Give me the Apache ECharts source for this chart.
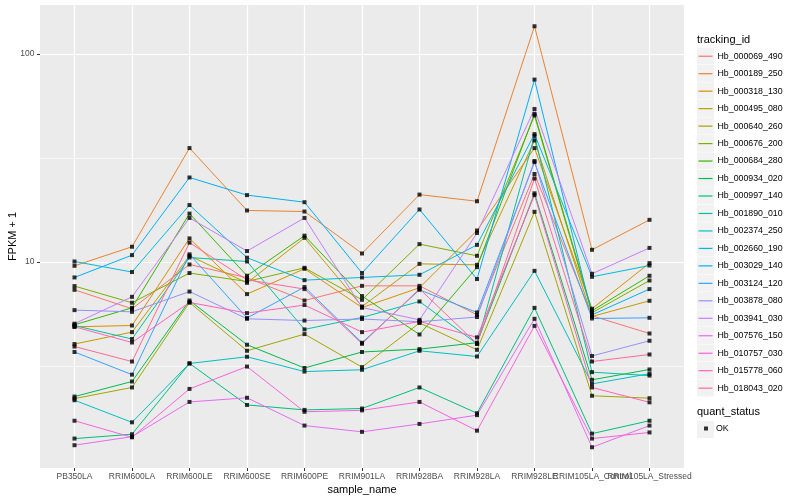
<!DOCTYPE html>
<html>
<head>
<meta charset="utf-8">
<script src="https://cdn.jsdelivr.net/npm/echarts@6/dist/echarts.min.js"></script>
<style>
html,body{margin:0;padding:0;background:#fff;}
#chart{width:800px;height:500px;}
</style>
</head>
<body>
<div id="chart"></div>
<script>
// ---- data ----
const categories = ['PB350LA','RRIM600LA','RRIM600LE','RRIM600SE','RRIM600PE','RRIM901LA','RRIM928BA','RRIM928LA','RRIM928LE','RRIM105LA_Control','RRIM105LA_Stressed'];
const yTickLabels = [10, 100];

const Hb_000069_490 = [7.36, 5.97, 9.74, 8.41, 6.54, 7.69, 7.69, 5.58, 26.5, 5.52, 4.54];
const Hb_000189_250 = [9.60, 11.85, 35.3, 17.7, 17.5, 11.0, 21.1, 19.6, 135.8, 11.46, 15.96];
const Hb_000318_130 = [4.89, 4.96, 13.0, 7.02, 9.29, 6.05, 7.53, 14.18, 35.3, 5.97, 9.89];
const Hb_000495_080 = [4.04, 4.61, 10.72, 7.95, 13.08, 6.12, 9.81, 9.70, 38.4, 5.48, 6.52];
const Hb_000640_260 = [2.21, 2.50, 6.40, 3.75, 4.51, 3.13, 5.10, 3.79, 17.44, 2.28, 2.22];
const Hb_000676_200 = [7.67, 6.38, 8.86, 8.07, 9.39, 6.59, 12.2, 10.72, 50.6, 5.71, 8.16];
const Hb_000684_280 = [5.00, 6.03, 17.1, 8.60, 13.4, 6.87, 4.49, 9.46, 51.5, 5.84, 8.60];
const Hb_000934_020 = [2.26, 2.67, 6.54, 4.01, 3.10, 3.70, 3.82, 4.10, 21.4, 2.72, 3.05];
const Hb_000997_140 = [1.42, 1.49, 3.26, 2.06, 1.95, 1.98, 2.50, 1.88, 6.03, 1.50, 1.73];
const Hb_001890_010 = [4.96, 4.27, 10.52, 10.07, 4.75, 5.42, 6.47, 4.05, 40.4, 2.96, 2.85];
const Hb_002374_250 = [2.17, 1.70, 3.26, 3.51, 2.98, 3.04, 3.75, 3.52, 9.08, 2.60, 2.91];
const Hb_002660_190 = [10.07, 8.96, 18.8, 10.5, 8.19, 8.44, 8.69, 12.1, 41.2, 8.50, 9.63];
const Hb_003029_140 = [8.44, 10.8, 25.5, 20.98, 19.4, 8.86, 17.9, 8.29, 75.3, 5.58, 7.42];
const Hb_003124_120 = [3.70, 2.88, 10.9, 5.39, 7.59, 4.10, 7.36, 5.73, 30.2, 5.36, 5.40];
const Hb_003878_080 = [5.88, 5.77, 7.22, 5.34, 5.24, 5.33, 5.17, 5.45, 30.6, 3.54, 4.19];
const Hb_003941_030 = [5.06, 6.81, 16.3, 11.3, 16.3, 6.05, 5.28, 13.8, 54.4, 8.79, 11.7];
const Hb_007576_150 = [1.32, 1.45, 2.13, 2.23, 1.64, 1.53, 1.67, 1.84, 5.34, 1.29, 1.64];
const Hb_010757_030 = [1.73, 1.44, 2.46, 3.15, 1.91, 1.94, 2.13, 1.55, 4.94, 1.42, 1.52];
const Hb_015778_060 = [4.89, 4.11, 6.40, 5.69, 6.22, 4.61, 5.19, 4.35, 20.98, 2.50, 2.12];
const Hb_018043_020 = [3.93, 3.33, 12.4, 8.22, 7.42, 4.05, 7.44, 4.05, 25.2, 3.33, 3.60];

const trackingIds = ['Hb_000069_490','Hb_000189_250','Hb_000318_130','Hb_000495_080','Hb_000640_260','Hb_000676_200','Hb_000684_280','Hb_000934_020','Hb_000997_140','Hb_001890_010','Hb_002374_250','Hb_002660_190','Hb_003029_140','Hb_003124_120','Hb_003878_080','Hb_003941_030','Hb_007576_150','Hb_010757_030','Hb_015778_060','Hb_018043_020'];
const seriesValues = [Hb_000069_490,Hb_000189_250,Hb_000318_130,Hb_000495_080,Hb_000640_260,Hb_000676_200,Hb_000684_280,Hb_000934_020,Hb_000997_140,Hb_001890_010,Hb_002374_250,Hb_002660_190,Hb_003029_140,Hb_003124_120,Hb_003878_080,Hb_003941_030,Hb_007576_150,Hb_010757_030,Hb_015778_060,Hb_018043_020];

// ---- ggplot-like hue palette (HCL, c=100, l=65) ----
function hcl(h, c, l) {
  const hr = h * Math.PI / 180;
  const U = c * Math.cos(hr), V = c * Math.sin(hr);
  const Y = l > 8 ? Math.pow((l + 16) / 116, 3) : l / 903.3;
  const un = 0.1978398, vn = 0.4683363;
  const u = U / (13 * l) + un, v = V / (13 * l) + vn;
  const X = 9 * Y * u / (4 * v);
  const Z = Y * (12 - 3 * u - 20 * v) / (4 * v);
  const lin = [
    3.240479 * X - 1.537150 * Y - 0.498535 * Z,
    -0.969256 * X + 1.875992 * Y + 0.041556 * Z,
    0.055648 * X - 0.204043 * Y + 1.057311 * Z
  ];
  return '#' + lin.map(cc => {
    let g = cc <= 0.0031308 ? 12.92 * cc : 1.055 * Math.pow(cc, 1 / 2.4) - 0.055;
    g = Math.max(0, Math.min(1, g));
    return Math.round(g * 255).toString(16).padStart(2, '0');
  }).join('');
}
const n = trackingIds.length;
const colors = trackingIds.map((_, k) => hcl(15 + 360 * k / n, 100, 65));

const FONT = 'Liberation Sans, Arial, sans-serif';
const idx = categories.map((_, i) => i);
const idxMain = idx.filter(i => i !== 9);
const idxAlt = [9];

const lineSeries = trackingIds.map((name, k) => ({
  type: 'line',
  name: name,
  data: seriesValues[k].map((v, i) => [i, v]),
  symbol: 'none',
  color: colors[k],
  lineStyle: { width: 1, color: colors[k] },
  silent: true,
  z: 2
}));
const pointSeries = {
  type: 'scatter',
  name: 'OK',
  data: seriesValues.flatMap(arr => arr.map((v, i) => [i, v])),
  symbol: 'rect',
  symbolSize: 4,
  itemStyle: { color: '#000' },
  silent: true,
  z: 3
};

// legend key backgrounds
const keyStep = 17.47;
const graphics = [];
trackingIds.forEach((_, k) => {
  graphics.push({ type: 'rect', shape: { x: 697, y: 47.5 + k * keyStep, width: 17, height: 17 }, style: { fill: '#F2F2F2' }, z: 0, silent: true });
});
graphics.push({ type: 'rect', shape: { x: 697, y: 421, width: 17, height: 17 }, style: { fill: '#F2F2F2' }, z: 0, silent: true });
graphics.push({ type: 'text', x: 697, y: 40, style: { text: 'tracking_id', fontSize: 11, fill: '#000', fontFamily: FONT, verticalAlign: 'middle', textVerticalAlign: 'middle' }, z: 5 });
graphics.push({ type: 'text', x: 697, y: 412, style: { text: 'quant_status', fontSize: 11, fill: '#000', fontFamily: FONT, verticalAlign: 'middle', textVerticalAlign: 'middle' }, z: 5 });

const yLogMin = 0.011, yLogMax = 2.235;
const yMin = Math.pow(10, yLogMin);
const yMax = Math.pow(10, yLogMax);

const xLabelStyle = { fontSize: 8.5, color: '#4D4D4D', margin: 4.5, fontFamily: FONT, hideOverlap: false, showMinLabel: true, showMaxLabel: true };

const option = {
  animation: false,
  backgroundColor: '#ffffff',
  textStyle: { fontFamily: FONT },
  grid: { left: 40, right: 116, top: 5, bottom: 32, show: true, backgroundColor: '#EBEBEB', borderWidth: 0, containLabel: false, outerBoundsMode: 'none' },
  xAxis: [{
    type: 'value', min: -0.6, max: 10.6, position: 'bottom',
    axisLine: { show: false },
    axisTick: { show: true, length: 3, customValues: idx, lineStyle: { color: '#333333', width: 1 } },
    axisLabel: Object.assign({ customValues: idxMain, formatter: v => categories[Math.round(v)] }, xLabelStyle),
    splitLine: { show: true, lineStyle: { color: '#ffffff', width: 1.2 } },
    name: 'sample_name', nameLocation: 'middle', nameGap: 16, nameMoveOverlap: false,
    nameTextStyle: { fontSize: 11, color: '#000', fontFamily: FONT }
  }, {
    type: 'value', min: -0.6, max: 10.6, position: 'bottom', offset: 0,
    axisLine: { show: false },
    axisTick: { show: false, customValues: idxAlt },
    axisLabel: Object.assign({ customValues: idxAlt, formatter: v => categories[Math.round(v)] }, xLabelStyle),
    splitLine: { show: false }
  }],
  yAxis: [{
    type: 'log', logBase: 10, min: yMin, max: yMax, position: 'left',
    axisLine: { show: false },
    axisTick: { show: false, customValues: yTickLabels },
    axisLabel: { customValues: yTickLabels, fontSize: 8.5, color: '#4D4D4D', margin: 5.5, fontFamily: FONT },
    splitLine: { show: true, lineStyle: { color: '#ffffff', width: 1.2 } },
    name: 'FPKM + 1', nameLocation: 'middle', nameGap: 21.5, nameRotate: 90, nameMoveOverlap: false,
    nameTextStyle: { fontSize: 11, color: '#000', fontFamily: FONT }
  }, {
    type: 'log', logBase: 10, min: yMin, max: yMax, position: 'left', offset: 0,
    axisLine: { show: false },
    axisTick: { show: false, customValues: [Math.sqrt(10), Math.pow(10, 1.5)] },
    axisLabel: { show: false, customValues: [Math.sqrt(10), Math.pow(10, 1.5)] },
    splitLine: { show: true, lineStyle: { color: '#ffffff', width: 0.6 } }
  }, {
    // tick marks only, placed at log10 of the tick labels
    type: 'value', min: yLogMin, max: yLogMax, position: 'left', offset: 0,
    axisLine: { show: false },
    axisTick: { show: true, length: 3, customValues: yTickLabels.map(v => Math.log10(v)), lineStyle: { color: '#333333', width: 1 } },
    axisLabel: { show: false, customValues: yTickLabels.map(v => Math.log10(v)) },
    splitLine: { show: false }
  }],
  legend: [{
    orient: 'vertical', left: 698.5, top: 47.5, padding: 0,
    itemWidth: 14, itemHeight: 1.2, itemGap: 0, icon: 'rect',
    data: trackingIds, selectedMode: false,
    textStyle: { fontSize: 8.8, lineHeight: 17.47, height: 17.47, color: '#000', fontFamily: FONT }
  }, {
    orient: 'vertical', left: 704, top: 424, padding: 0,
    itemWidth: 4, itemHeight: 4, icon: 'rect',
    data: ['OK'], selectedMode: false,
    itemStyle: { color: '#000' },
    textStyle: { fontSize: 8.8, color: '#000', fontFamily: FONT, padding: [0, 0, 0, 3] }
  }],
  graphic: graphics,
  series: lineSeries.concat([pointSeries])
};

const chart = echarts.init(document.getElementById('chart'), null, { renderer: 'canvas' });
chart.setOption(option);
</script>
</body>
</html>
